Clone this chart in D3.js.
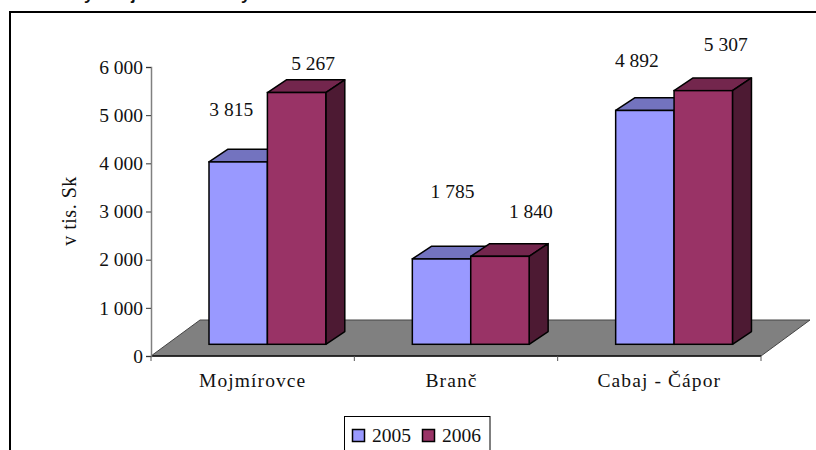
<!DOCTYPE html>
<html><head><meta charset="utf-8">
<script src="https://cdn.jsdelivr.net/npm/d3@7/dist/d3.min.js"></script>
<style>html,body{margin:0;padding:0;background:#fff;overflow:hidden}svg{display:block}
text{font-family:"Liberation Serif",serif;fill:#111}</style></head>
<body><svg id="c" width="816" height="450"></svg>
<script>
const categories = ["Mojmírovce", "Branč", "Cabaj - Čápor"];
const seriesNames = ["2005", "2006"];
const values2005 = [3815, 1785, 4892];
const values2006 = [5267, 1840, 5307];
const yTicks = [0, 1000, 2000, 3000, 4000, 5000, 6000];
const fills = ["#9999FF", "#993366"];
const topFills = ["#7373BF", "#73264D"];
const sideFills = ["#4D4D80", "#4D1A33"];
const labelOffsets2005 = [[-7, -46], [11, -61], [-8, -43]];
const labelOffsets2006 = [[16.5, -23], [31, -38], [22.5, -40]];
const categoryNudge = [0, -4.5, 0];
const titleGlyphs = [["y", 84], ["j", 131], ["y", 241]];

const fmt = v => d3.format(",")(v).replace(/,/g, " ");
const svg = d3.select("#c");

const x = d3.scaleBand().domain(categories).range([151, 761]);
const y = d3.scaleLinear().domain([0, 6000]).range([356, 67]);
// front plane of the 3-D bars sits forward of the axis wall
const barY = d3.scaleLinear().domain([0, 6000]).range([344.3, 57.5]);
const inner = d3.scaleBand().domain(seriesNames).range([58, 58 + 116.8]);
const depthX = 19, depthY = 12.7;
const floorDX = 49, floorDY = 36;

// title, cut by the top of the picture
svg.selectAll("text.title").data(titleGlyphs).join("text").attr("class", "title")
  .attr("x", d => d[1]).attr("y", 0)
  .style("font-family", '"Liberation Sans",sans-serif').style("font-size", "17px").style("font-weight", "bold")
  .text(d => d[0]);

// frame
svg.append("path").attr("d", "M10,450V12H816").attr("fill", "none").attr("stroke", "#000").attr("stroke-width", 2);

// floor
const [x0, x1] = x.range(), y0 = y(0);
svg.append("path")
  .attr("d", `M${x0},${y0}L${x0 + floorDX},${y0 - floorDY}H${x1 + floorDX}L${x1},${y0}Z`)
  .attr("fill", "#808080").attr("stroke", "#444").attr("stroke-width", 1);
svg.append("line").attr("x1", x0).attr("x2", x1).attr("y1", y0).attr("y2", y0).attr("stroke", "#111").attr("stroke-width", 1.5);

// axes
const yAxis = d3.axisLeft(y).tickValues(yTicks).tickSize(5).tickPadding(3).tickFormat(fmt);
const gy = svg.append("g").attr("transform", `translate(${x0},0)`).call(yAxis);
gy.select(".domain").attr("stroke", "#808080").attr("stroke-width", 1.5);
gy.selectAll(".tick line").attr("stroke", "#333");
gy.selectAll("text").style("font-family", '"Liberation Serif",serif').style("font-size", "19.5px").attr("fill", "#111");
const xTickVals = x.domain().map(c => x(c)).concat([x1]);
svg.selectAll("line.xt").data(xTickVals).join("line").attr("class", "xt")
  .attr("x1", d => d).attr("x2", d => d).attr("y1", y0).attr("y2", y0 + 5).attr("stroke", "#555");

// x labels
svg.selectAll("text.cat").data(categories).join("text").attr("class", "cat")
  .attr("x", (d, i) => x(d) + x.bandwidth() / 2 + categoryNudge[i]).attr("y", 387).attr("text-anchor", "middle")
  .style("font-size", "19.5px").style("letter-spacing", "1.1px").text(d => d);

// y title
svg.append("text").attr("transform", "translate(76,211) rotate(-90)").attr("text-anchor", "middle")
  .style("font-size", "20px").style("letter-spacing", "0.5px").text("v tis. Sk");

// bars
const rows = [];
categories.forEach((c, i) => {
  rows.push({c, s: 0, v: values2005[i], off: labelOffsets2005[i]});
  rows.push({c, s: 1, v: values2006[i], off: labelOffsets2006[i]});
});
const w = inner.bandwidth();
const g = svg.selectAll("g.bar").data(rows).join("g").attr("class", "bar");
const line = {stroke: "#000", sw: 1.5};
g.each(function (d) {
  const sel = d3.select(this);
  const l = x(d.c) + inner(seriesNames[d.s]), r = l + w, t = barY(d.v), b = barY(0);
  sel.append("path").attr("d", `M${l},${t}L${l + depthX},${t - depthY}H${r + depthX}L${r},${t}Z`)
    .attr("fill", topFills[d.s]).attr("stroke", line.stroke).attr("stroke-width", line.sw).attr("stroke-linejoin", "round");
  sel.append("path").attr("d", `M${r},${t}L${r + depthX},${t - depthY}V${b - depthY}L${r},${b}Z`)
    .attr("fill", sideFills[d.s]).attr("stroke", line.stroke).attr("stroke-width", line.sw).attr("stroke-linejoin", "round");
  sel.append("rect").attr("x", l).attr("y", t).attr("width", w).attr("height", b - t)
    .attr("fill", fills[d.s]).attr("stroke", line.stroke).attr("stroke-width", line.sw);
});
// values
svg.selectAll("text.val").data(rows).join("text").attr("class", "val")
  .attr("x", d => x(d.c) + inner(seriesNames[d.s]) + w / 2 + d.off[0])
  .attr("y", d => barY(d.v) + d.off[1]).attr("text-anchor", "middle")
  .style("font-size", "19.5px").text(d => fmt(d.v));

// legend
svg.append("rect").attr("x", 344.5).attr("y", 416.5).attr("width", 145.5).attr("height", 40)
  .attr("fill", "#fff").attr("stroke", "#000").attr("stroke-width", 1);
const lg = d3.scalePoint().domain(seriesNames).range([352, 422]);
seriesNames.forEach((s, i) => {
  svg.append("rect").attr("x", lg(s) + .5).attr("y", 429.5).attr("width", 12).attr("height", 12)
    .attr("fill", fills[i]).attr("stroke", "#000").attr("stroke-width", 1.5);
  svg.append("text").attr("x", lg(s) + 20).attr("y", 442).style("font-size", "19.5px").text(s);
});
</script></body></html>
